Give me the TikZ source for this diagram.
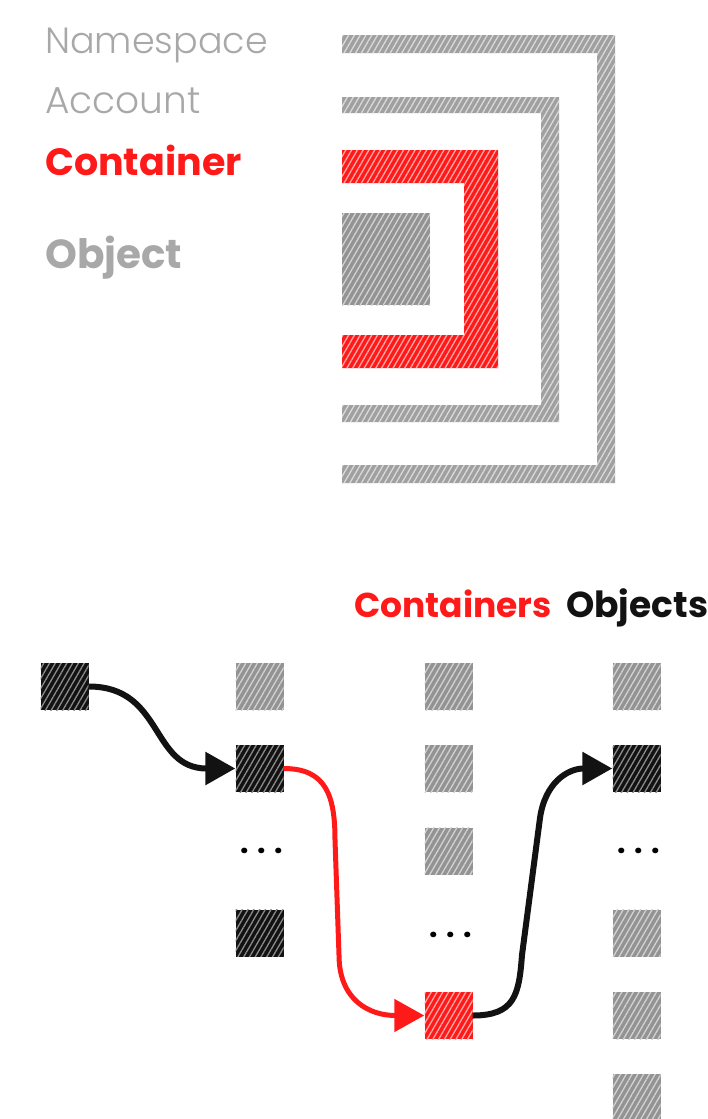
\documentclass[tikz,border=0pt]{standalone}
\usepackage{fontspec}
\setmainfont{Poppins}
\IfFontExistsTF{Poppins Light}{\newfontfamily\lightfont{Poppins Light}}{\newfontfamily\lightfont{Poppins}}
\usetikzlibrary{arrows.meta,patterns.meta}
\definecolor{cgray}{HTML}{939393}
\definecolor{cgrayl}{HTML}{D2D2D2}
\definecolor{bgray}{HTML}{A0A0A0}
\definecolor{bgrayl}{HTML}{DADADA}
\definecolor{cred}{HTML}{FF1A1A}
\definecolor{credl}{HTML}{FFA8A8}
\definecolor{cblack}{HTML}{121212}
\definecolor{cblackl}{HTML}{8C8C8C}
\definecolor{tgray}{HTML}{A8A8A8}
\begin{document}
\begin{tikzpicture}[x=1pt,y=-1pt,
  hatch/.style 2 args={preaction={fill=#1}, pattern={Lines[angle=60,distance=5pt,line width=1.3pt]}, pattern color=#2},
  sq/.style={rectangle, minimum width=48pt, minimum height=47pt, inner sep=0pt, draw=none},
  gsq/.style={sq, hatch={cgray}{cgrayl}},
  bsq/.style={sq, hatch={cblack}{cblackl}},
  rsq/.style={sq, hatch={cred}{credl}},
  lbl/.style={anchor=base west, inner sep=0pt},
  dotsnode/.style={inner sep=0pt, font=\bfseries\fontsize{30}{36}\selectfont},
  conn/.style={line width=6pt, -{Triangle[length=30pt,width=32pt]}},
]
\useasboundingbox (0,0) rectangle (708,1119);

% ---- legend texts
\node[lbl, text=tgray, font=\lightfont\fontsize{36.5}{44}\selectfont] (tns) at (45,53) {Namespace};
\node[lbl, text=tgray, font=\lightfont\fontsize{37.5}{44}\selectfont] (tacc) at (45,113) {Account};
\node[lbl, text=cred, font=\bfseries\fontsize{38}{44}\selectfont] (tcont) at (45,175) {Container};
\node[lbl, text=tgray, font=\bfseries\fontsize{40.5}{46}\selectfont] (tobj) at (45,268) {Object};

% ---- nested brackets
\path[hatch={bgray}{bgrayl}] (342,35) -- (615,35) -- (615,483) -- (342,483) -- (342,465) -- (597,465) -- (597,53) -- (342,53) -- cycle;
\path[hatch={bgray}{bgrayl}] (342,97) -- (559,97) -- (559,422) -- (342,422) -- (342,405) -- (541,405) -- (541,113) -- (342,113) -- cycle;
\path[hatch={cred}{credl}] (342,150) -- (498,150) -- (498,368) -- (342,368) -- (342,335) -- (464,335) -- (464,183) -- (342,183) -- cycle;
\path[hatch={cgray}{cgrayl}] (342,213) rectangle (430,305);

% ---- column headers
\node[lbl, text=cred, font=\bfseries\fontsize{34.5}{42}\selectfont] (hcont) at (354,617) {Containers};
\node[lbl, text=cblack, font=\bfseries\fontsize{36}{42}\selectfont] (hobj) at (566,617) {Objects};

% ---- column 1
\node[bsq] (c1r1) at (64.5,686.5) {};
% ---- column 2
\node[gsq] (c2r1) at (259.5,686.5) {};
\node[bsq] (c2r2) at (259.5,768.5) {};
\node[dotsnode] (c2r3) at (262,851) {. . .};
\node[bsq] (c2r4) at (259.5,933) {};
% ---- column 3
\node[gsq] (c3r1) at (448.5,686.5) {};
\node[gsq] (c3r2) at (448.5,768.5) {};
\node[gsq] (c3r3) at (448.5,851) {};
\node[dotsnode] (c3r4) at (451,935) {. . .};
\node[rsq] (c3r5) at (448.5,1015.5) {};
% ---- column 4
\node[gsq] (c4r1) at (636.5,686.5) {};
\node[bsq] (c4r2) at (636.5,768.5) {};
\node[dotsnode] (c4r3) at (639,851) {. . .};
\node[gsq] (c4r4) at (636.5,933) {};
\node[gsq] (c4r5) at (636.5,1015.5) {};
\node[gsq] (c4r6) at (636.5,1097.5) {};

% ---- connectors
\coordinate (r1) at (335,840);
\coordinate (r2) at (339,955);
\coordinate (b1) at (522,955);
\coordinate (b2) at (540,818);

\draw[conn, draw=cblack] (c1r1.east) .. controls +(75,0) and +(-85,0) .. (c2r2.west);
\draw[conn, draw=cred, line width=5pt] (c2r2.east) .. controls +(42,0) and +(0,-45) .. (r1) -- (r2) .. controls +(0,45) and +(-55,0) .. (c3r5.west);
\draw[conn, draw=cblack] (c3r5.east) .. controls +(42,0) and +(-3,40) .. (b1) -- (b2) .. controls +(5,-35) and +(-45,0) .. (c4r2.west);
\end{tikzpicture}
\end{document}
